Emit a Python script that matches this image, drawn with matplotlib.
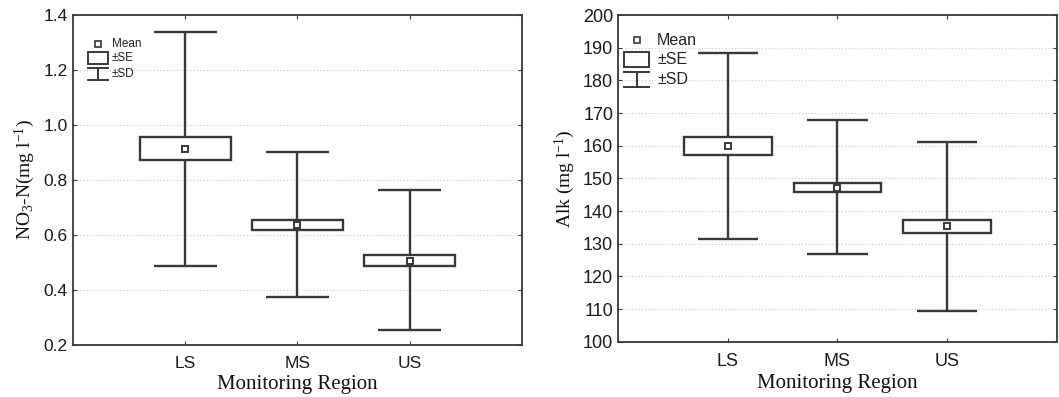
import matplotlib.pyplot as plt
import matplotlib.patches as patches
import numpy as np

regions = ["LS", "MS", "US"]

# NO3-N (mg l-1)
no3_mean = [0.914, 0.637, 0.506]
no3_se_lo = [0.873, 0.619, 0.487]
no3_se_hi = [0.956, 0.656, 0.529]
no3_sd_lo = [0.488, 0.376, 0.254]
no3_sd_hi = [1.340, 0.901, 0.765]

# Alkalinity (mg l-1)
alk_mean = [160.0, 147.2, 135.4]
alk_se_lo = [157.1, 145.9, 133.2]
alk_se_hi = [162.8, 148.7, 137.4]
alk_sd_lo = [131.4, 126.9, 109.4]
alk_sd_hi = [188.5, 168.0, 161.2]

LC = '#383838'
tick_font = 'Liberation Sans'
label_font = 'Liberation Serif'

plt.rcParams['mathtext.fontset'] = 'custom'
plt.rcParams['mathtext.rm'] = label_font
plt.rcParams['mathtext.it'] = label_font + ':italic'

fig = plt.figure(figsize=(10.59, 3.97), dpi=100)
ax1 = fig.add_axes([0.0687, 0.131, 0.4243, 0.831])
ax2 = fig.add_axes([0.5836, 0.139, 0.4144, 0.823])


def draw_panel(ax, mean, se_lo, se_hi, sd_lo, sd_hi, box_w=0.81, cap_w=0.56):
    x = np.arange(1, len(regions) + 1)
    ax.vlines(x, sd_lo, sd_hi, color=LC, lw=1.7, zorder=2)
    ax.hlines(sd_lo, x - cap_w / 2, x + cap_w / 2, color=LC, lw=1.7, zorder=2)
    ax.hlines(sd_hi, x - cap_w / 2, x + cap_w / 2, color=LC, lw=1.7, zorder=2)
    for xi, lo, hi in zip(x, se_lo, se_hi):
        ax.add_patch(patches.Rectangle((xi - box_w / 2, lo), box_w, hi - lo,
                                       fc='white', ec=LC, lw=1.7, zorder=3))
    ax.plot(x, mean, 's', ms=5, mfc='white', mec=LC, mew=1.4, zorder=4)
    ax.set_xlim(0, 4)
    ax.set_xticks(x)
    ax.set_xticklabels(regions)
    ax.yaxis.grid(True, linestyle=(0, (1, 2)), color='#c8c8c8', lw=0.8)
    ax.set_axisbelow(True)
    ax.tick_params(direction='in', length=3, top=True, right=True,
                   color=LC, labelcolor='#1a1a1a')
    ax.tick_params(axis='x', pad=8)
    for s in ax.spines.values():
        s.set_color(LC)
        s.set_linewidth(1.3)
    for lab in ax.get_xticklabels() + ax.get_yticklabels():
        lab.set_fontfamily(tick_font)
    ax.set_xlabel("Monitoring Region", family=label_font, fontsize=15,
                  color='#111111', labelpad=3)


def draw_legend(ax, x0, w, y_mark, y_box, h_box, y_cap1, y_cap2, tx, fs):
    # legend glyphs in axes fraction coordinates
    t = ax.transAxes
    ax.plot([x0 + w / 2], [y_mark], 's', ms=4.5, mfc='white', mec=LC, mew=1.2,
            transform=t, clip_on=False, zorder=5)
    ax.add_patch(patches.Rectangle((x0, y_box - h_box), w, h_box, transform=t,
                                   fc='white', ec=LC, lw=1.4, zorder=5))
    ax.plot([x0, x0 + w], [y_cap1, y_cap1], color=LC, lw=1.4, transform=t, zorder=5)
    ax.plot([x0, x0 + w], [y_cap2, y_cap2], color=LC, lw=1.4, transform=t, zorder=5)
    ax.plot([x0 + w / 2, x0 + w / 2], [y_cap1, y_cap2], color=LC, lw=1.4,
            transform=t, zorder=5)
    ax.text(tx, y_mark, "Mean", transform=t, va='center', ha='left',
            fontsize=fs, family=tick_font, color='#222222')
    ax.text(tx, (2 * y_box - h_box) / 2, "±SE", transform=t, va='center',
            ha='left', fontsize=fs, family=tick_font, color='#222222')
    ax.text(tx, (y_cap1 + y_cap2) / 2, "±SD", transform=t, va='center',
            ha='left', fontsize=fs, family=tick_font, color='#222222')


# left panel
draw_panel(ax1, no3_mean, no3_se_lo, no3_se_hi, no3_sd_lo, no3_sd_hi)
ax1.set_ylim(0.2, 1.4)
ax1.set_yticks(np.arange(0.2, 1.41, 0.2))
ax1.set_yticklabels(["%.1f" % v for v in np.arange(0.2, 1.41, 0.2)],
                    family=tick_font)
ax1.tick_params(labelsize=12.5)
ax1.set_ylabel(r"NO$_3$-N(mg l$^{-1}$)", family=label_font, fontsize=14,
               color='#111111', labelpad=5)


def fy(py, top=15, bot=345):
    return 1 - (py - top) / (bot - top)


def fx(px, left=72.8, right=522):
    return (px - left) / (right - left)


draw_legend(ax1, fx(88), fx(108) - fx(88), fy(43.5), fy(52), fy(52) - fy(64),
            fy(68), fy(80), fx(112), 8.5)

# right panel
draw_panel(ax2, alk_mean, alk_se_lo, alk_se_hi, alk_sd_lo, alk_sd_hi,
           box_w=0.80, cap_w=0.55)
ax2.set_ylim(100, 200)
ax2.set_yticks(np.arange(100, 201, 10))
ax2.tick_params(labelsize=13)
for lab in ax2.get_yticklabels():
    lab.set_fontfamily(tick_font)
ax2.set_ylabel(r"Alk (mg l$^{-1}$)", family=label_font, fontsize=14,
               color='#111111', labelpad=4)


def fy2(py):
    return fy(py, 15, 342)


def fx2(px):
    return fx(px, 618, 1057)


draw_legend(ax2, fx2(624), fx2(649) - fx2(624), fy2(40), fy2(52),
            fy2(52) - fy2(67), fy2(71.5), fy2(86.5), fx2(657), 11.5)

fig.savefig('out.png', dpi=100)
